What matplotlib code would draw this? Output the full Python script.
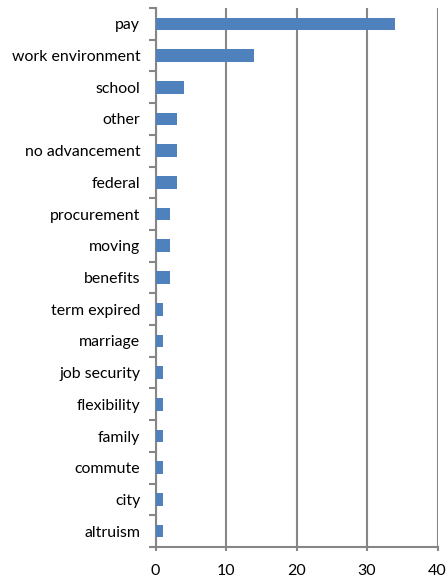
import matplotlib.pyplot as plt
import numpy as np

# reasons, listed top to bottom as in the chart
reasons = ["pay", "work environment", "school", "other", "no advancement",
           "federal", "procurement", "moving", "benefits", "term expired",
           "marriage", "job security", "flexibility", "family", "commute",
           "city", "altruism"]
counts = [34, 14, 4, 3, 3, 3, 2, 2, 2, 1, 1, 1, 1, 1, 1, 1, 1]
xticks = [0, 10, 20, 30, 40]

plt.rcParams['font.family'] = ['Lato', 'DejaVu Sans']

fig = plt.figure(figsize=(4.48, 5.81), dpi=100)
ax = fig.add_axes([155.5 / 448, 34 / 581, 282 / 448, 539 / 581])

ypos = np.arange(len(reasons))[::-1]
ax.barh(ypos, counts, height=0.4, color='#4F81BD', zorder=3)

ax.set_xlim(0, 40)
ax.set_ylim(-0.5, len(reasons) - 0.5)
ax.set_xticks(xticks)
ax.set_xticklabels([str(t) for t in xticks], fontsize=11.5)

# category labels centred on bars, tick marks between categories
ax.set_yticks(ypos)
ax.set_yticklabels(reasons, fontsize=11.4)
ax.tick_params(axis='y', which='major', length=0, pad=11)
ax.set_yticks(np.arange(-0.5, len(reasons)), minor=True)
ax.tick_params(axis='y', which='minor', length=5, width=1.5, color='#868686')
ax.tick_params(axis='x', length=3, width=1.5, color='#868686', pad=9)

ax.grid(axis='x', color='#868686', linewidth=1.5, zorder=0)
for side in ['top', 'right']:
    ax.spines[side].set_visible(False)
for side in ['left', 'bottom']:
    ax.spines[side].set_color('#868686')
    ax.spines[side].set_linewidth(1.5)

fig.savefig('out.png', dpi=100)
